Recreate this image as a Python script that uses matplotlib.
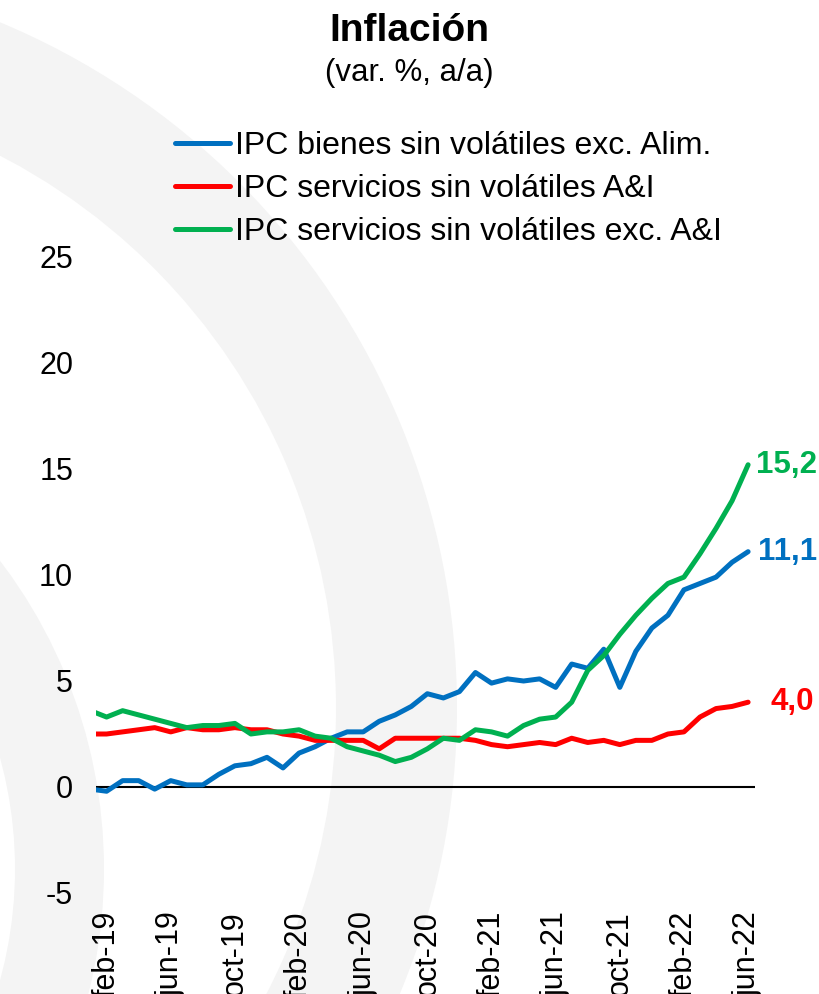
import matplotlib
matplotlib.use('Agg')
import matplotlib.pyplot as plt
from matplotlib.patches import Wedge
import numpy as np

plt.rcParams['font.family'] = ['Liberation Sans', 'DejaVu Sans']
plt.rcParams['axes.unicode_minus'] = False

# Monthly data, jan-19 .. jun-22 (jan-19 is partly clipped by the axis edge)
years = ['19', '20', '21', '22']
mnames = ['ene', 'feb', 'mar', 'abr', 'may', 'jun', 'jul', 'ago', 'sep', 'oct', 'nov', 'dic']
months = [f'{m}-{y}' for y in years for m in mnames][:42]

tick_labels = ['feb-19', 'jun-19', 'oct-19', 'feb-20', 'jun-20', 'oct-20',
               'feb-21', 'jun-21', 'oct-21', 'feb-22', 'jun-22']

bienes = [-0.1, -0.2, 0.3, 0.3, -0.1, 0.3, 0.1, 0.1, 0.6, 1.0,
          1.1, 1.4, 0.9, 1.6, 1.9, 2.3, 2.6, 2.6, 3.1, 3.4,
          3.8, 4.4, 4.2, 4.5, 5.4, 4.9, 5.1, 5.0, 5.1, 4.7,
          5.8, 5.6, 6.5, 4.7, 6.4, 7.5, 8.1, 9.3, 9.6, 9.9,
          10.6, 11.1]
serv_ai = [2.5, 2.5, 2.6, 2.7, 2.8, 2.6, 2.8, 2.7, 2.7, 2.8,
           2.7, 2.7, 2.5, 2.4, 2.2, 2.2, 2.2, 2.2, 1.8, 2.3,
           2.3, 2.3, 2.3, 2.3, 2.2, 2.0, 1.9, 2.0, 2.1, 2.0,
           2.3, 2.1, 2.2, 2.0, 2.2, 2.2, 2.5, 2.6, 3.3, 3.7,
           3.8, 4.0]
serv_exc = [3.6, 3.3, 3.6, 3.4, 3.2, 3.0, 2.8, 2.9, 2.9, 3.0,
            2.5, 2.6, 2.6, 2.7, 2.4, 2.3, 1.9, 1.7, 1.5, 1.2,
            1.4, 1.8, 2.3, 2.2, 2.7, 2.6, 2.4, 2.9, 3.2, 3.3,
            4.0, 5.5, 6.2, 7.2, 8.1, 8.9, 9.6, 9.9, 11.0, 12.2,
            13.5, 15.2]

series_labels = ['IPC bienes sin volátiles exc. Alim.',
                 'IPC servicios sin volátiles A&I',
                 'IPC servicios sin volátiles exc. A&I']
end_labels = ['11,1', '4,0', '15,2']
colors = ['#0070C0', '#FF0000', '#00B050']

W, H = 819, 994
fig = plt.figure(figsize=(W / 100, H / 100), dpi=100)
fig.patch.set_facecolor('white')

# background watermark rings
bg = fig.add_axes([0, 0, 1, 1], zorder=0)
bg.set_xlim(0, W)
bg.set_ylim(H, 0)
bg.axis('off')
bg.add_patch(Wedge((-286, 708), 743, 0, 360, width=121, facecolor='#f4f4f4', lw=0))
bg.add_patch(Wedge((-405, 869), 509, 0, 360, width=89, facecolor='#f4f4f4', lw=0))

ax = fig.add_axes([96 / W, 1 - 893 / H, (755 - 96) / W, (893 - 257) / H], zorder=1)
ax.patch.set_alpha(0)
for s in ax.spines.values():
    s.set_visible(False)

x = np.arange(len(months))
ax.axhline(0, color='black', lw=1.5, zorder=1)
handles = []
for ys, c, lab in zip([bienes, serv_ai, serv_exc], colors, series_labels):
    h, = ax.plot(x, ys, color=c, lw=3.6, solid_capstyle='round',
                 solid_joinstyle='round', label=lab, zorder=2)
    handles.append(h)

for ys, c, t, off in zip([bienes, serv_ai, serv_exc], colors, end_labels, [10, 22, 8]):
    ax.annotate(t, xy=(x[-1], ys[-1]), xytext=(off, 0), textcoords='offset pixels',
                ha='left', va='center', fontsize=22.5, fontweight='bold', color=c,
                annotation_clip=False)

ax.set_xlim(0.34, 41.43)
ax.set_ylim(-5, 25)
ax.set_yticks(range(-5, 30, 5))
ax.set_yticklabels([str(v) for v in range(-5, 30, 5)])
ax.set_xticks(x[1::4])
ax.set_xticklabels(tick_labels, rotation=90)
ax.tick_params(axis='both', length=0, labelsize=22, colors='black')
ax.tick_params(axis='x', pad=13)
ax.tick_params(axis='y', pad=16.5)

fig.text(0.5, 1 - 41 / H, 'Inflación', ha='center', va='baseline',
         fontsize=28, fontweight='bold')
fig.text(0.5, 1 - 81 / H, '(var. %, a/a)', ha='center', va='baseline', fontsize=22.5)

fig.legend(handles=handles, labels=series_labels, loc='upper left',
           bbox_to_anchor=(175 / W, 1 - 131 / H), frameon=False, fontsize=23,
           handlelength=1.72, handletextpad=0.15, labelspacing=0.41,
           borderpad=0, borderaxespad=0)

fig.savefig('out.png', dpi=100)
